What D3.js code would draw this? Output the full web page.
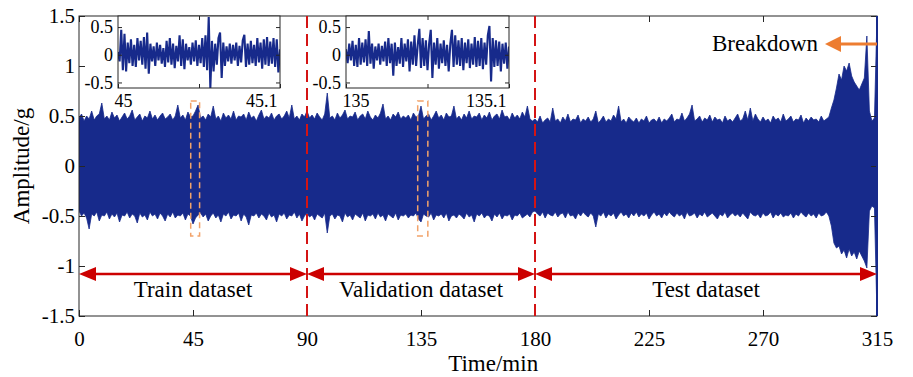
<!DOCTYPE html>
<html>
<head>
<meta charset="utf-8">
<script src="https://cdn.jsdelivr.net/npm/d3@7"></script>
<style>
  body { margin: 0; background: #fff; }
  svg { display: block; font-family: "Liberation Serif", "Times New Roman", serif; }
</style>
</head>
<body>
<div id="chart"></div>
<script>
// peak values per minute of the vibration record (g)
const upperPeak = [
  0.48, 0.52, 0.45, 0.5, 0.47, 0.55, 0.46, 0.5, 0.52, 0.63,
  0.47, 0.5, 0.46, 0.54, 0.48, 0.51, 0.45, 0.49, 0.53, 0.47,
  0.5, 0.56, 0.46, 0.49, 0.52, 0.45, 0.5, 0.48, 0.55, 0.47,
  0.51, 0.46, 0.5, 0.53, 0.47, 0.49, 0.52, 0.46, 0.5, 0.61,
  0.48, 0.51, 0.46, 0.54, 0.49, 0.5, 0.55, 0.61, 0.48, 0.5,
  0.46, 0.52, 0.49, 0.6, 0.47, 0.5, 0.45, 0.53, 0.48, 0.51,
  0.47, 0.55, 0.46, 0.5, 0.49, 0.52, 0.46, 0.54, 0.48, 0.5,
  0.45, 0.51, 0.56, 0.47, 0.5, 0.48, 0.53, 0.46, 0.5, 0.52,
  0.47, 0.5, 0.55, 0.48, 0.61, 0.47, 0.5, 0.46, 0.52, 0.49,
  0.55, 0.48, 0.51, 0.47, 0.53, 0.49, 0.46, 0.52, 0.73, 0.48,
  0.5, 0.46, 0.53, 0.48, 0.51, 0.56, 0.47, 0.5, 0.49, 0.54,
  0.46, 0.5, 0.52, 0.47, 0.55, 0.49, 0.46, 0.51, 0.48, 0.53,
  0.62, 0.47, 0.5, 0.46, 0.52, 0.49, 0.54, 0.47, 0.5, 0.48,
  0.51, 0.46, 0.53, 0.49, 0.5, 0.6, 0.47, 0.5, 0.52, 0.46,
  0.5, 0.55, 0.48, 0.51, 0.46, 0.53, 0.49, 0.5, 0.6, 0.47,
  0.5, 0.46, 0.52, 0.48, 0.55, 0.47, 0.5, 0.49, 0.53, 0.46,
  0.51, 0.48, 0.54, 0.46, 0.5, 0.52, 0.47, 0.56, 0.49, 0.5,
  0.46, 0.53, 0.48, 0.51, 0.47, 0.54, 0.49, 0.6, 0.47, 0.45,
  0.47, 0.44, 0.5, 0.43, 0.46, 0.48, 0.44, 0.58, 0.45, 0.47,
  0.43, 0.49, 0.45, 0.52, 0.44, 0.47, 0.46, 0.51, 0.43, 0.47,
  0.45, 0.49, 0.44, 0.47, 0.55, 0.43, 0.46, 0.5, 0.44, 0.47,
  0.45, 0.51, 0.47, 0.6, 0.44, 0.47, 0.43, 0.49, 0.46, 0.44,
  0.48, 0.43, 0.47, 0.45, 0.5, 0.43, 0.46, 0.47, 0.44, 0.49,
  0.43, 0.47, 0.45, 0.48, 0.52, 0.44, 0.47, 0.46, 0.53, 0.45,
  0.48, 0.52, 0.61, 0.45, 0.47, 0.5, 0.44, 0.48, 0.46, 0.51,
  0.44, 0.49, 0.46, 0.47, 0.43, 0.5, 0.45, 0.47, 0.44, 0.48,
  0.52, 0.45, 0.47, 0.55, 0.46, 0.58, 0.45, 0.52, 0.47, 0.44,
  0.49, 0.45, 0.47, 0.43, 0.5, 0.46, 0.48, 0.44, 0.52, 0.45,
  0.47, 0.5, 0.44, 0.47, 0.46, 0.51, 0.43, 0.48, 0.45, 0.49,
  0.46, 0.47, 0.44, 0.5, 0.45, 0.47, 0.49, 0.58, 0.66, 0.78,
  0.92, 0.86, 1.0, 0.95, 1.03, 0.9, 0.84, 0.8, 0.76, 0.82,
  0.88, 1.3, 0.55, 0.45, 0.48, 1.5
];
const lowerPeak = [
  -0.45, -0.5, -0.47, -0.52, -0.63, -0.48, -0.5, -0.46, -0.55, -0.49,
  -0.5, -0.46, -0.53, -0.48, -0.51, -0.47, -0.56, -0.49, -0.5, -0.46,
  -0.52, -0.48, -0.5, -0.57, -0.47, -0.51, -0.49, -0.54, -0.46, -0.5,
  -0.48, -0.53, -0.47, -0.5, -0.55, -0.48, -0.51, -0.46, -0.52, -0.49,
  -0.5, -0.47, -0.54, -0.48, -0.5, -0.58, -0.52, -0.49, -0.47, -0.51,
  -0.48, -0.55, -0.5, -0.47, -0.52, -0.49, -0.56, -0.48, -0.5, -0.46,
  -0.53, -0.49, -0.5, -0.47, -0.55, -0.48, -0.51, -0.59, -0.49, -0.5,
  -0.47, -0.52, -0.48, -0.5, -0.54, -0.47, -0.51, -0.49, -0.56, -0.48,
  -0.5, -0.47, -0.53, -0.49, -0.5, -0.46, -0.52, -0.48, -0.55, -0.5,
  -0.47, -0.51, -0.49, -0.54, -0.48, -0.5, -0.52, -0.47, -0.67, -0.5,
  -0.48, -0.53, -0.49, -0.5, -0.56, -0.47, -0.51, -0.49, -0.54, -0.48,
  -0.5, -0.52, -0.47, -0.55, -0.49, -0.5, -0.48, -0.53, -0.47, -0.51,
  -0.49, -0.55, -0.48, -0.5, -0.52, -0.47, -0.54, -0.49, -0.5, -0.48,
  -0.52, -0.49, -0.5, -0.47, -0.53, -0.56, -0.48, -0.5, -0.51, -0.47,
  -0.54, -0.49, -0.5, -0.48, -0.52, -0.47, -0.55, -0.5, -0.49, -0.52,
  -0.48, -0.5, -0.53, -0.47, -0.51, -0.49, -0.56, -0.48, -0.5, -0.47,
  -0.52, -0.49, -0.5, -0.55, -0.48, -0.51, -0.47, -0.53, -0.49, -0.5,
  -0.48, -0.54, -0.49, -0.5, -0.47, -0.52, -0.5, -0.48, -0.51, -0.46,
  -0.45, -0.48, -0.5, -0.46, -0.52, -0.47, -0.49, -0.5, -0.46, -0.51,
  -0.48, -0.47, -0.52, -0.46, -0.5, -0.49, -0.53, -0.47, -0.5, -0.46,
  -0.49, -0.51, -0.47, -0.5, -0.61, -0.48, -0.5, -0.46, -0.52, -0.48,
  -0.5, -0.47, -0.53, -0.49, -0.46, -0.5, -0.48, -0.52, -0.47, -0.5,
  -0.46, -0.51, -0.48, -0.5, -0.47, -0.53, -0.49, -0.46, -0.5, -0.48,
  -0.52, -0.47, -0.5, -0.46, -0.49, -0.51, -0.47, -0.5, -0.48, -0.53,
  -0.46, -0.5, -0.49, -0.47, -0.52, -0.48, -0.5, -0.46, -0.51, -0.49,
  -0.47, -0.5, -0.53, -0.48, -0.5, -0.46, -0.52, -0.49, -0.47, -0.5,
  -0.48, -0.51, -0.47, -0.5, -0.53, -0.46, -0.49, -0.5, -0.48, -0.52,
  -0.47, -0.5, -0.49, -0.46, -0.52, -0.48, -0.5, -0.47, -0.51, -0.49,
  -0.5, -0.47, -0.52, -0.48, -0.5, -0.46, -0.49, -0.51, -0.47, -0.5,
  -0.48, -0.52, -0.47, -0.5, -0.49, -0.46, -0.5, -0.6, -0.77, -0.82,
  -0.8, -0.88, -0.84, -0.92, -0.83, -0.9, -0.86, -0.93, -0.85, -0.9,
  -0.95, -1.02, -0.45, -0.4, -0.42, -1.5
];

// zoomed windows (45-45.1 min and 135-135.1 min), one sample per 0.001 min
const zoomTrain = [
  0.05, -0.12, 0.45, -0.28, 0.38, -0.3, 0.22, -0.15, 0.28, -0.2,
  0.18, -0.22, 0.3, -0.1, 0.25, -0.18, 0.32, -0.25, 0.4, -0.34,
  0.2, -0.12, 0.15, -0.2, 0.22, -0.1, 0.18, -0.16, 0.12, -0.22,
  0.25, -0.14, 0.3, -0.18, 0.2, -0.24, 0.16, -0.12, 0.35, -0.2,
  0.28, -0.26, 0.2, -0.1, 0.14, -0.18, 0.22, -0.12, 0.26, -0.2,
  0.18, -0.15, 0.3, -0.22, 0.35, -0.28, 0.68, -0.6, 0.25, -0.3,
  0.2, -0.18, 0.3, 0.4, -0.42, 0.22, -0.2, 0.15, -0.12, 0.2,
  -0.16, 0.18, -0.1, 0.22, -0.2, 0.16, -0.14, 0.26, 0.36, -0.22,
  0.2, -0.18, 0.25, -0.15, 0.18, -0.2, 0.3, -0.14, 0.22, -0.25,
  0.28, -0.18, 0.32, -0.2, 0.24, -0.16, 0.3, -0.22, 0.28, -0.32, 0.1
];
const zoomValid = [
  0.1, -0.15, 0.2, -0.1, 0.25, -0.2, 0.18, -0.22, 0.3, -0.18,
  0.22, -0.14, 0.28, -0.2, 0.43, -0.16, 0.2, -0.25, 0.15, -0.1,
  0.2, -0.18, 0.16, -0.12, 0.24, -0.2, 0.3, -0.15, 0.2, -0.38,
  0.22, -0.2, 0.14, -0.16, 0.3, -0.22, 0.2, -0.12, 0.28, -0.3,
  0.24, -0.18, 0.35, -0.2, 0.18, 0.47, -0.24, 0.3, -0.2, 0.26,
  -0.28, 0.2, 0.45, -0.42, 0.22, -0.18, 0.3, -0.25, 0.2, -0.15,
  0.26, -0.2, 0.18, -0.3, 0.2, 0.45, -0.22, 0.35, -0.18, 0.26,
  -0.2, 0.3, -0.28, 0.22, -0.15, 0.28, -0.24, 0.2, -0.18, 0.32,
  -0.22, 0.25, -0.2, 0.3, -0.26, 0.22, -0.18, 0.35, 0.52, -0.48,
  0.3, -0.22, 0.26, -0.2, 0.24, -0.3, 0.2, -0.16, 0.22, -0.25, 0.15
];

const xTicks = [0, 45, 90, 135, 180, 225, 270, 315];
const yTicks = [-1.5, -1, -0.5, 0, 0.5, 1, 1.5];
const splits = [90, 180];
const segments = [
  { from: 0, to: 90, name: "Train dataset" },
  { from: 90, to: 180, name: "Validation dataset" },
  { from: 180, to: 315, name: "Test dataset" }
];
const zoomBoxes = [[44.1, 47.6], [133.7, 137.7]];
const insets = [
  { start: 45, end: 45.1, values: zoomTrain, left: 118, right: 280 },
  { start: 135, end: 135.1, values: zoomValid, left: 346, right: 509 }
];

var W = 913, H = 377;
var margin = { top: 16, right: 36, bottom: 61, left: 79 },
  width = W - margin.left - margin.right,
  height = H - margin.top - margin.bottom;

var blue = "#172a8b", red = "#cc0000", axisCol = "#262626";
var fmt = function (d) { return String(d); };

var svg = d3.select("#chart").append("svg")
  .attr("width", W).attr("height", H);

var g = svg.append("g")
  .attr("transform", "translate(" + margin.left + "," + margin.top + ")");

var x = d3.scaleLinear().domain([0, 315]).range([0, width]);
var y = d3.scaleLinear().domain([-1.5, 1.5]).range([height, 0]);

g.append("clipPath").attr("id", "clip")
  .append("rect").attr("width", width + 1).attr("height", height);

// signal band between the positive and negative peak of each minute
var minutes = d3.range(upperPeak.length);
var band = d3.area()
  .x(function (d) { return x(d); })
  .y0(function (d, i) { return y(lowerPeak[i]); })
  .y1(function (d, i) { return y(upperPeak[i]); });

g.append("path")
  .datum(minutes)
  .attr("clip-path", "url(#clip)")
  .attr("d", band)
  .attr("fill", blue)
  .attr("stroke", blue)
  .attr("stroke-width", 0.8)
  .attr("stroke-linejoin", "miter");

// axes (ticks inward, MATLAB style box)
var ax = g.append("g").attr("class", "axes");
ax.append("g")
  .attr("transform", "translate(0," + height + ")")
  .call(d3.axisBottom(x).tickValues(xTicks).tickSize(-6).tickSizeOuter(0).tickPadding(15).tickFormat(fmt));
ax.append("g")
  .call(d3.axisTop(x).tickValues(xTicks).tickSize(-6).tickSizeOuter(0).tickFormat(""));
ax.append("g")
  .call(d3.axisLeft(y).tickValues(yTicks).tickSize(-6).tickSizeOuter(0).tickPadding(4).tickFormat(fmt));
ax.append("g")
  .attr("transform", "translate(" + width + ",0)")
  .call(d3.axisRight(y).tickValues(yTicks).tickSize(-6).tickSizeOuter(0).tickFormat(""));
ax.selectAll(".domain").remove();
ax.selectAll(".tick line").attr("stroke", axisCol);
ax.selectAll("text")
  .attr("font-family", "Liberation Serif, serif")
  .attr("font-size", "21px")
  .attr("fill", "#000");
g.append("rect")
  .attr("width", width).attr("height", height)
  .attr("fill", "none").attr("stroke", axisCol).attr("stroke-width", 1);

// right-edge breakdown trace drawn on top of the frame
g.append("line")
  .attr("x1", x(315)).attr("x2", x(315))
  .attr("y1", y(upperPeak[315])).attr("y2", y(lowerPeak[315]))
  .attr("stroke", blue).attr("stroke-width", 2);

// split lines
g.selectAll(".split")
  .data(splits)
  .enter().append("line")
  .attr("x1", function (d) { return x(d); })
  .attr("x2", function (d) { return x(d); })
  .attr("y1", 0).attr("y2", height)
  .attr("stroke", "#d41414")
  .attr("stroke-width", 2)
  .attr("stroke-dasharray", "12,6");

// orange dashed zoom boxes
g.selectAll(".zbox")
  .data(zoomBoxes)
  .enter().append("rect")
  .attr("x", function (d) { return x(d[0]); })
  .attr("width", function (d) { return x(d[1]) - x(d[0]); })
  .attr("y", y(0.65))
  .attr("height", y(-0.7) - y(0.65))
  .attr("fill", "none")
  .attr("stroke", "#f2a36a")
  .attr("stroke-width", 1.5)
  .attr("stroke-dasharray", "6,4");

// dataset arrows
function head(tipX, tipY, dir, len, half) {
  return "M" + tipX + "," + tipY +
    "L" + (tipX + dir * len) + "," + (tipY - half) +
    "L" + (tipX + dir * len) + "," + (tipY + half) + "Z";
}
var arrowY = y(-1.08);
segments.forEach(function (s) {
  var x0 = x(s.from), x1 = x(s.to);
  g.append("line")
    .attr("x1", x0 + 10).attr("x2", x1 - 10)
    .attr("y1", arrowY).attr("y2", arrowY)
    .attr("stroke", red).attr("stroke-width", 2.5);
  g.append("path").attr("d", head(x0, arrowY, 1, 17, 7)).attr("fill", red);
  g.append("path").attr("d", head(x1, arrowY, -1, 17, 7)).attr("fill", red);
  g.append("text")
    .attr("x", (x0 + x1) / 2)
    .attr("y", 281)
    .attr("text-anchor", "middle")
    .attr("font-size", "23px")
    .text(s.name);
});

// breakdown annotation
var bkY = 28;
g.append("line")
  .attr("x1", x(315)).attr("x2", x(315) - 40)
  .attr("y1", bkY).attr("y2", bkY)
  .attr("stroke", "#ed7d31").attr("stroke-width", 3);
g.append("path").attr("d", head(x(315) - 52, bkY, 1, 16, 8)).attr("fill", "#ed7d31");
g.append("text")
  .attr("x", x(315) - 59).attr("y", bkY + 7)
  .attr("text-anchor", "end")
  .attr("font-size", "23px")
  .text("Breakdown");

// axis titles
svg.append("text")
  .attr("x", margin.left + x(163.5)).attr("y", 371)
  .attr("text-anchor", "middle")
  .attr("font-size", "23px")
  .text("Time/min");
svg.append("text")
  .attr("transform", "translate(29," + (margin.top + y(0)) + ") rotate(-90)")
  .attr("text-anchor", "middle")
  .attr("font-size", "23px")
  .text("Amplitude/g");

// insets
insets.forEach(function (ins, k) {
  var ix = d3.scaleLinear().domain([ins.start, ins.end]).range([ins.left, ins.right]);
  var iy = d3.scaleLinear().domain([-0.6, 0.7]).range([88, 16]);
  var ig = svg.append("g");
  ig.append("rect")
    .attr("x", ins.left).attr("y", 16)
    .attr("width", ins.right - ins.left).attr("height", 72)
    .attr("fill", "#fff");
  var cid = "iclip" + k;
  ig.append("clipPath").attr("id", cid)
    .append("rect").attr("x", ins.left).attr("y", 16)
    .attr("width", ins.right - ins.left).attr("height", 72);
  var step = (ins.end - ins.start) / (ins.values.length - 1);
  ig.append("path")
    .datum(ins.values)
    .attr("clip-path", "url(#" + cid + ")")
    .attr("d", d3.line()
      .x(function (d, i) { return ix(ins.start + i * step); })
      .y(function (d) { return iy(d); }))
    .attr("fill", "none")
    .attr("stroke", blue)
    .attr("stroke-width", 2.1);

  var mid = (ins.start + ins.end) / 2;
  var xa = ig.append("g").attr("transform", "translate(0,88)")
    .call(d3.axisBottom(ix).tickValues([ins.start, mid, ins.end]).tickSize(-4).tickSizeOuter(0).tickPadding(6)
      .tickFormat(function (d) { return d === mid ? "" : String(+d.toFixed(2)); }));
  ig.append("g").attr("transform", "translate(0,16)")
    .call(d3.axisTop(ix).tickValues([mid]).tickSize(-4).tickSizeOuter(0).tickFormat(""));
  ig.append("g").attr("transform", "translate(" + ins.left + ",0)")
    .call(d3.axisLeft(iy).tickValues([-0.5, 0, 0.5]).tickSize(-4).tickSizeOuter(0).tickPadding(5).tickFormat(fmt));
  ig.append("g").attr("transform", "translate(" + ins.right + ",0)")
    .call(d3.axisRight(iy).tickValues([-0.5, 0, 0.5]).tickSize(-4).tickSizeOuter(0).tickFormat(""));
  ig.selectAll(".domain").remove();
  ig.selectAll(".tick line").attr("stroke", axisCol);
  ig.selectAll("text")
    .attr("font-family", "Liberation Serif, serif")
    .attr("font-size", "18px")
    .attr("fill", "#000");
  xa.selectAll(".tick text").each(function (d) {
    var t = d3.select(this);
    if (d === ins.start) t.attr("text-anchor", "start").attr("dx", -4);
    if (d === ins.end) t.attr("text-anchor", "end").attr("dx", -3);
  });
  ig.append("rect")
    .attr("x", ins.left).attr("y", 16)
    .attr("width", ins.right - ins.left).attr("height", 72)
    .attr("fill", "none").attr("stroke", axisCol);
});
</script>
</body>
</html>
